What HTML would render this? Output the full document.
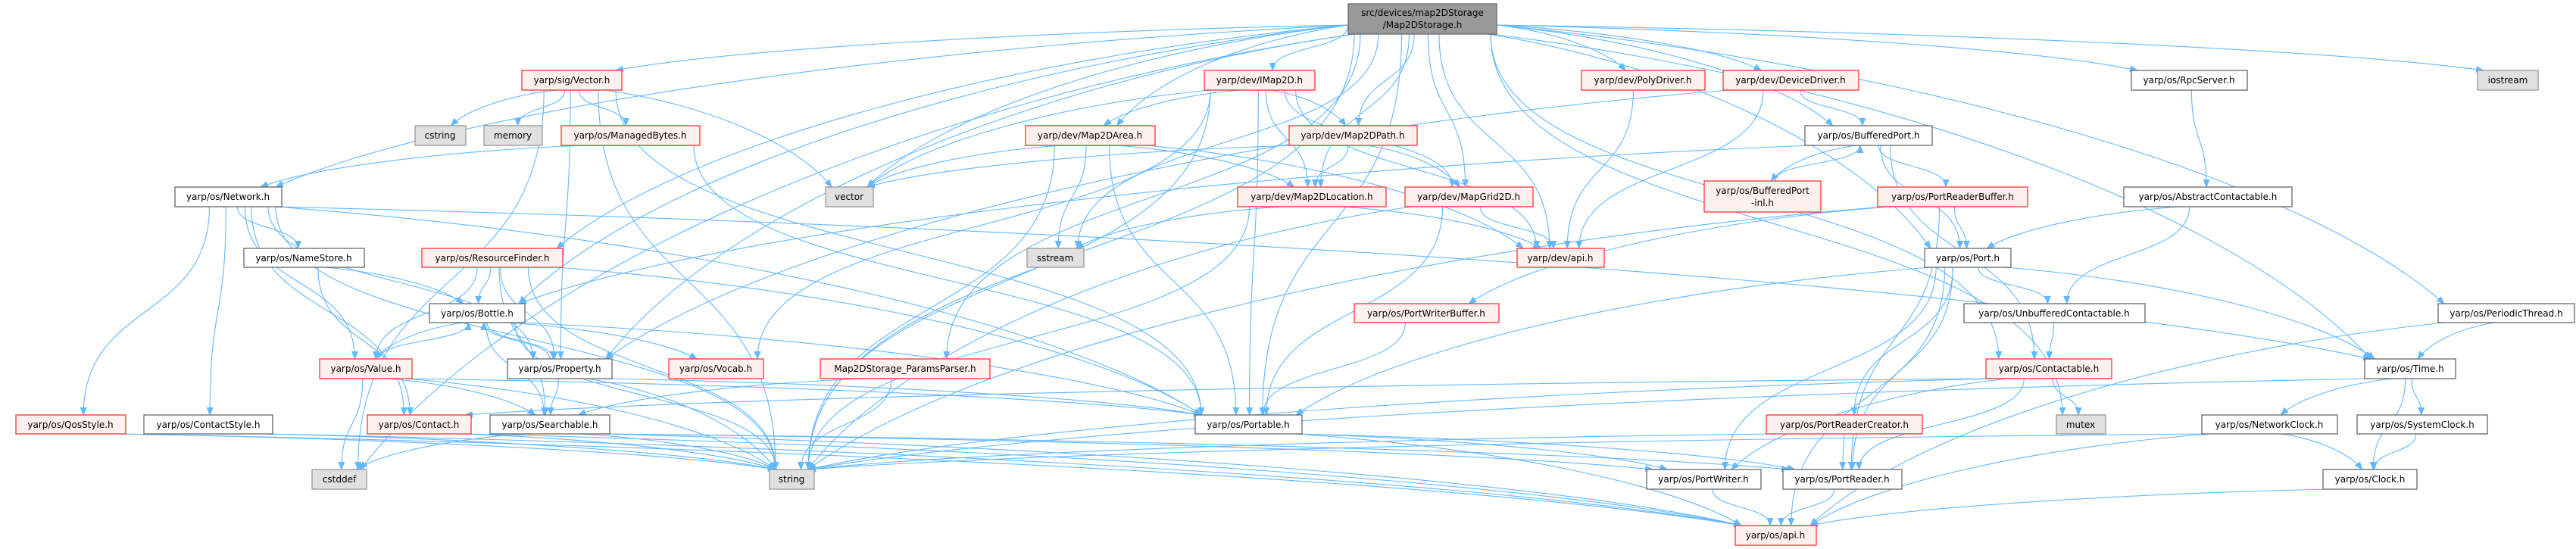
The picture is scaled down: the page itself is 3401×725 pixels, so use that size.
<!DOCTYPE html>
<html><head><meta charset="utf-8"><style>
html,body{margin:0;padding:0;background:#fff;}
svg{display:block;}
text{font-family:"DejaVu Sans","Liberation Sans",sans-serif;font-size:12px;fill:#000;text-anchor:middle;}
.r{fill:#fff0f0;stroke:#ff3333;stroke-width:1.3;}
.w{fill:#fff;stroke:#666;stroke-width:1.3;}
.g{fill:#e0e0e0;stroke:#999;stroke-width:1.3;}
.m{fill:#999;stroke:#666;stroke-width:1.3;}
.e{fill:none;stroke:#63b8ff;stroke-width:1.1;}
</style></head><body>
<svg id="s" width="3401" height="725" viewBox="0 0 3401 725" xmlns="http://www.w3.org/2000/svg">
<defs><marker id="a" markerUnits="userSpaceOnUse" markerWidth="11" markerHeight="9" refX="10" refY="4.5" orient="auto"><path d="M0,0 L11,4.5 L0,9 z" fill="#63b8ff"/></marker></defs>
<g id="edges"></g>
<g id="nodes">
<rect class="m" x="1780" y="5" width="196" height="40"/><text x="1878" y="21">src/devices/map2DStorage</text><text x="1878" y="37">/Map2DStorage.h</text>
<rect class="r" x="689" y="93" width="132" height="26"/><text x="755" y="110">yarp/sig/Vector.h</text>
<rect class="g" x="548" y="166" width="67" height="26"/><text x="581" y="183">cstring</text>
<rect class="g" x="639" y="166" width="77" height="26"/><text x="677" y="183">memory</text>
<rect class="r" x="741" y="166" width="183" height="26"/><text x="832" y="183">yarp/os/ManagedBytes.h</text>
<rect class="w" x="231" y="247" width="141" height="26"/><text x="301" y="264">yarp/os/Network.h</text>
<rect class="w" x="322" y="328" width="159" height="25"/><text x="401" y="345">yarp/os/NameStore.h</text>
<rect class="r" x="557" y="328" width="186" height="25"/><text x="650" y="345">yarp/os/ResourceFinder.h</text>
<rect class="w" x="567" y="401" width="126" height="25"/><text x="630" y="418">yarp/os/Bottle.h</text>
<rect class="r" x="422" y="474" width="122" height="26"/><text x="483" y="491">yarp/os/Value.h</text>
<rect class="w" x="670" y="474" width="138" height="26"/><text x="739" y="491">yarp/os/Property.h</text>
<rect class="r" x="21" y="548" width="145" height="25"/><text x="93" y="565">yarp/os/QosStyle.h</text>
<rect class="w" x="190" y="548" width="170" height="25"/><text x="275" y="565">yarp/os/ContactStyle.h</text>
<rect class="r" x="485" y="548" width="137" height="25"/><text x="553" y="565">yarp/os/Contact.h</text>
<rect class="w" x="647" y="548" width="158" height="25"/><text x="726" y="565">yarp/os/Searchable.h</text>
<rect class="g" x="412" y="620" width="72" height="26"/><text x="448" y="637">cstddef</text>
<rect class="r" x="1590" y="93" width="146" height="26"/><text x="1663" y="110">yarp/dev/IMap2D.h</text>
<rect class="r" x="1354" y="166" width="171" height="26"/><text x="1439" y="183">yarp/dev/Map2DArea.h</text>
<rect class="g" x="1090" y="247" width="63" height="26"/><text x="1121" y="264">vector</text>
<rect class="r" x="1702" y="166" width="169" height="26"/><text x="1786" y="183">yarp/dev/Map2DPath.h</text>
<rect class="r" x="1634" y="247" width="196" height="26"/><text x="1732" y="264">yarp/dev/Map2DLocation.h</text>
<rect class="g" x="1356" y="328" width="75" height="25"/><text x="1393" y="345">sstream</text>
<rect class="r" x="883" y="474" width="125" height="26"/><text x="945" y="491">yarp/os/Vocab.h</text>
<rect class="r" x="1083" y="474" width="224" height="26"/><text x="1195" y="491">Map2DStorage_ParamsParser.h</text>
<rect class="w" x="1578" y="548" width="141" height="25"/><text x="1648" y="565">yarp/os/Portable.h</text>
<rect class="g" x="1016" y="620" width="59" height="26"/><text x="1045" y="637">string</text>
<rect class="r" x="2088" y="93" width="163" height="26"/><text x="2169" y="110">yarp/dev/PolyDriver.h</text>
<rect class="r" x="2275" y="93" width="179" height="26"/><text x="2364" y="110">yarp/dev/DeviceDriver.h</text>
<rect class="w" x="2383" y="166" width="168" height="26"/><text x="2467" y="183">yarp/os/BufferedPort.h</text>
<rect class="r" x="1855" y="247" width="169" height="26"/><text x="1939" y="264">yarp/dev/MapGrid2D.h</text>
<rect class="r" x="2003" y="328" width="115" height="25"/><text x="2060" y="345">yarp/dev/api.h</text>
<rect class="r" x="2250" y="239" width="154" height="41"/><text x="2327" y="256">yarp/os/BufferedPort</text><text x="2327" y="272">-inl.h</text>
<rect class="r" x="2479" y="247" width="198" height="26"/><text x="2578" y="264">yarp/os/PortReaderBuffer.h</text>
<rect class="r" x="1788" y="401" width="191" height="25"/><text x="1883" y="418">yarp/os/PortWriterBuffer.h</text>
<rect class="r" x="2332" y="548" width="206" height="25"/><text x="2435" y="565">yarp/os/PortReaderCreator.h</text>
<rect class="w" x="2174" y="620" width="151" height="26"/><text x="2249" y="637">yarp/os/PortWriter.h</text>
<rect class="w" x="2354" y="620" width="157" height="26"/><text x="2432" y="637">yarp/os/PortReader.h</text>
<rect class="r" x="2291" y="694" width="107" height="26"/><text x="2344" y="711">yarp/os/api.h</text>
<rect class="w" x="2814" y="93" width="153" height="26"/><text x="2890" y="110">yarp/os/RpcServer.h</text>
<rect class="g" x="3271" y="93" width="80" height="26"/><text x="3311" y="110">iostream</text>
<rect class="w" x="2804" y="247" width="222" height="26"/><text x="2915" y="264">yarp/os/AbstractContactable.h</text>
<rect class="w" x="2541" y="328" width="114" height="25"/><text x="2598" y="345">yarp/os/Port.h</text>
<rect class="w" x="2593" y="401" width="239" height="25"/><text x="2712" y="418">yarp/os/UnbufferedContactable.h</text>
<rect class="w" x="3219" y="401" width="180" height="25"/><text x="3309" y="418">yarp/os/PeriodicThread.h</text>
<rect class="r" x="2622" y="474" width="166" height="26"/><text x="2705" y="491">yarp/os/Contactable.h</text>
<rect class="w" x="3122" y="474" width="120" height="26"/><text x="3182" y="491">yarp/os/Time.h</text>
<rect class="g" x="2715" y="548" width="65" height="25"/><text x="2747" y="565">mutex</text>
<rect class="w" x="2907" y="548" width="179" height="25"/><text x="2996" y="565">yarp/os/NetworkClock.h</text>
<rect class="w" x="3112" y="548" width="172" height="25"/><text x="3198" y="565">yarp/os/SystemClock.h</text>
<rect class="w" x="3067" y="620" width="124" height="26"/><text x="3129" y="637">yarp/os/Clock.h</text>
</g>
</svg>
<script>
var N={main:[1780,1976,5,45],Vector:[689,821,93,119],cstring:[548,615,166,192],memory:[639,716,166,192],ManagedBytes:[741,924,166,192],Network:[231,372,247,273],NameStore:[322,481,328,353],ResourceFinder:[557,743,328,353],Bottle:[567,693,401,426],Value:[422,544,474,500],Property:[670,808,474,500],QosStyle:[21,166,548,573],ContactStyle:[190,360,548,573],Contact:[485,622,548,573],Searchable:[647,805,548,573],cstddef:[412,484,620,646],IMap2D:[1590,1736,93,119],Map2DArea:[1354,1525,166,192],vector:[1090,1153,247,273],Map2DPath:[1702,1871,166,192],Map2DLocation:[1634,1830,247,273],sstream:[1356,1431,328,353],Vocab:[883,1008,474,500],Params:[1083,1307,474,500],Portable:[1578,1719,548,573],string:[1016,1075,620,646],PolyDriver:[2088,2251,93,119],DeviceDriver:[2275,2454,93,119],BufferedPort:[2383,2551,166,192],MapGrid2D:[1855,2024,247,273],devapi:[2003,2118,328,353],BPinl:[2250,2404,239,280],PRBuf:[2479,2677,247,273],PWBuf:[1788,1979,401,426],PRCreator:[2332,2538,548,573],PortWriter:[2174,2325,620,646],PortReader:[2354,2511,620,646],osapi:[2291,2398,694,720],RpcServer:[2814,2967,93,119],iostream:[3271,3351,93,119],AbsC:[2804,3026,247,273],Port:[2541,2655,328,353],Unbuf:[2593,2832,401,426],Periodic:[3219,3399,401,426],Contactable:[2622,2788,474,500],Time:[3122,3242,474,500],mutex:[2715,2780,548,573],NetClock:[2907,3086,548,573],SysClock:[3112,3284,548,573],Clock:[3067,3191,620,646]};
var E="main Vector,main Network,main cstddef,main string,main Bottle,main Property,main ResourceFinder,main vector,main Params,main Portable,main IMap2D,main Map2DArea,main Map2DPath,main Map2DLocation,main MapGrid2D,main devapi,main PolyDriver,main DeviceDriver,main BufferedPort,main RpcServer,main iostream,main Port,main Time,main Periodic,main mutex,main sstream,main Contactable,Vector cstring,Vector memory,Vector ManagedBytes,Vector vector,Vector string,Vector Portable,Vector cstddef,Vector Property,ManagedBytes Network,ManagedBytes Portable,Network NameStore,Network Value,Network Contact,Network ContactStyle,Network QosStyle,Network Portable,Network Property,Network string,Network Time,NameStore Bottle,NameStore Contact,ResourceFinder Bottle,ResourceFinder Value,ResourceFinder Property,ResourceFinder string,ResourceFinder Searchable,ResourceFinder Portable,Bottle Value,Bottle Property,Bottle Searchable,Bottle string,Bottle Portable,Bottle Vocab,Value Bottle,Value cstddef,Value Searchable,Value string,Value Portable,Property Bottle,Property Searchable,Property string,Property Portable,QosStyle string,QosStyle osapi,ContactStyle string,ContactStyle osapi,Contact string,Contact osapi,Searchable cstddef,Searchable string,Searchable osapi,Searchable PortReader,Searchable PortWriter,IMap2D Map2DArea,IMap2D Map2DPath,IMap2D Map2DLocation,IMap2D MapGrid2D,IMap2D devapi,IMap2D vector,IMap2D string,IMap2D Portable,IMap2D Vocab,Map2DArea vector,Map2DArea sstream,Map2DArea string,Map2DArea Portable,Map2DArea Map2DLocation,Map2DArea devapi,Map2DPath vector,Map2DPath Map2DLocation,Map2DPath MapGrid2D,Map2DLocation sstream,Map2DLocation string,Map2DLocation devapi,MapGrid2D devapi,MapGrid2D string,MapGrid2D Portable,Params string,Params Searchable,Portable PortReader,Portable PortWriter,Portable osapi,PolyDriver devapi,DeviceDriver devapi,DeviceDriver BufferedPort,DeviceDriver Property,BufferedPort BPinl,BufferedPort PRBuf,BufferedPort Port,BufferedPort Contactable,BufferedPort Bottle,BPinl BufferedPort,PRBuf Port,PRBuf PortReader,PRBuf string,PRBuf PWBuf,PWBuf Portable,Port Unbuf,Port Portable,Port PRCreator,Port PortWriter,Port PortReader,Port osapi,Port Time,RpcServer AbsC,AbsC Port,AbsC Unbuf,Unbuf Contactable,Contactable mutex,Contactable PortReader,Contactable PortWriter,Contactable Contact,Contactable string,PRCreator PortReader,PRCreator string,PortWriter osapi,PortReader osapi,Time NetClock,Time SysClock,Time Clock,Time string,NetClock Clock,NetClock osapi,NetClock string,SysClock Clock,Clock osapi,Periodic Time,Periodic osapi".split(",");
var g=document.getElementById("edges"),h="";
function cl(v,a,b){return Math.max(a,Math.min(b,v));}
E.forEach(function(p){var q=p.split(" "),s=N[q[0]],t=N[q[1]];if(!s||!t)return;
var scx=(s[0]+s[1])/2,tcx=(t[0]+t[1])/2,d,sx,tx,sy,ty;
if(t[2]>=s[3]-2){
 tx=cl(tcx+(scx-tcx)*0.08,t[0]+8,t[1]-8);ty=t[2];
 var dx=tx-scx,dy=ty-s[3];
 if(Math.abs(dx)>3*dy && q[0]=="main"){sx=dx<0?s[0]:s[1];sy=(s[2]+s[3])/2+ (dx<0?8:8);}
 else {sx=cl(scx+(tcx-scx)*0.12,s[0]+8,s[1]-8);sy=s[3];}
 dx=tx-sx;dy=ty-sy;
 if(Math.abs(dx)>2*dy){d="M"+sx+","+sy+" C"+(sx+dx*0.45)+","+(sy+dy*0.15)+" "+(tx-dx*0.15)+","+(ty-dy*0.45)+" "+tx+","+ty;}
 else{var m=dy*0.55;d="M"+sx+","+sy+" C"+sx+","+(sy+m)+" "+tx+","+(ty-m)+" "+tx+","+ty;}
}
else if(t[3]<=s[2]+2){sx=cl(scx+(tcx-scx)*0.12,s[0]+8,s[1]-8);tx=cl(tcx+(scx-tcx)*0.08,t[0]+8,t[1]-8);sy=s[2];ty=t[3];var m=(sy-ty)*0.55;
d="M"+sx+","+sy+" C"+sx+","+(sy-m)+" "+tx+","+(ty+m)+" "+tx+","+ty;}
else{sy=(s[2]+s[3])/2;ty=(t[2]+t[3])/2;if(tcx>scx){sx=s[1];tx=t[0];}else{sx=s[0];tx=t[1];}
d="M"+sx+","+sy+" C"+((sx+tx)/2)+","+sy+" "+((sx+tx)/2)+","+ty+" "+tx+","+ty;}
h+='<path class="e" marker-end="url(#a)" d="'+d+'"/>';});
g.innerHTML=h;
</script>
</body></html>
